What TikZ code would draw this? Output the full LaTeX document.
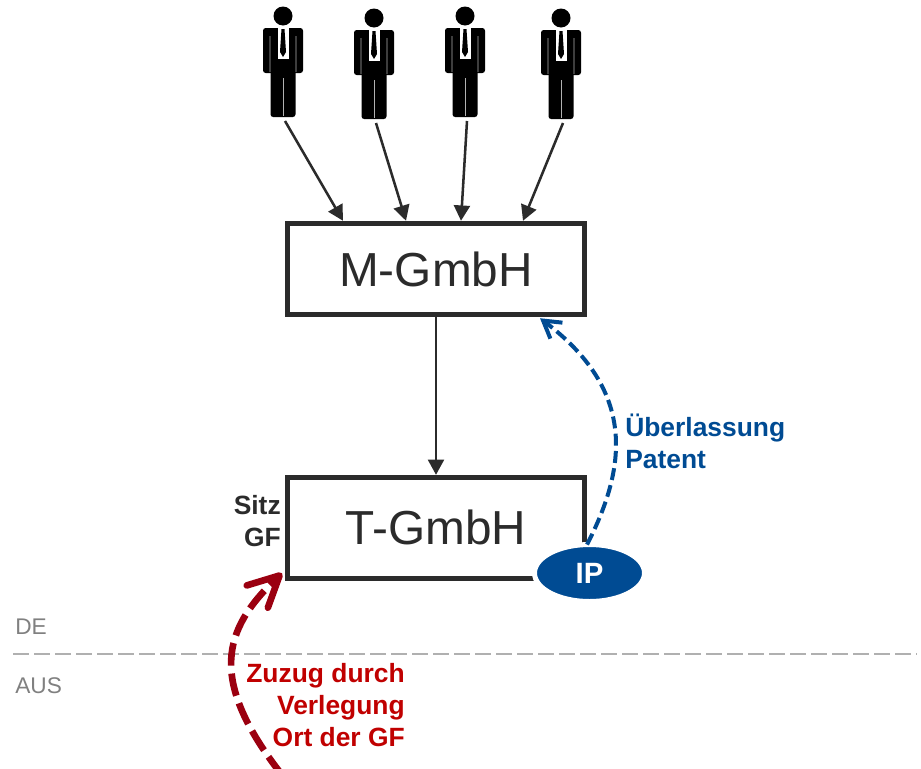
\documentclass[tikz,border=0pt]{standalone}
\usepackage{fontspec}
\setmainfont{Liberation Sans}
\usetikzlibrary{arrows.meta,calc,shapes.geometric}
\definecolor{boxgray}{HTML}{2B2B2B}
\definecolor{ipblue}{HTML}{004B93}
\definecolor{zuzugred}{HTML}{C00000}
\definecolor{arcred}{HTML}{9B0010}
\definecolor{borderline}{HTML}{B0B0B0}
\tikzset{
	company/.style={rectangle,draw=boxgray,line width=3.75pt,minimum width=222.75pt,text=boxgray,font=\fontsize{35.8}{40}\selectfont},
	link/.style={draw=boxgray,line width=1.9pt,-{Triangle[length=11.5pt,width=12pt]}},
	note/.style={font=\fontsize{19.8}{24}\selectfont\bfseries,align=right,inner sep=0pt},
	land/.style={font=\fontsize{17}{20}\selectfont,text=gray,anchor=west,inner sep=0pt},
	person/.pic={
		\fill (0,0) circle (9.5);
		\fill[rounded corners=2pt] (-20,12) rectangle (20,57);
		\fill[rounded corners=2pt] (-12.5,50) rectangle (12.5,101);
		\fill[white!70!black] (-13.3,20) rectangle (-12.7,56) (12.7,20) rectangle (13.3,56);
		\fill[white!70!black] (-.3,62) rectangle (.3,100);
		\fill[white] (-5.5,12) -- (5.5,12) -- (5.5,43) -- (-5.5,43) -- cycle;
		\fill (-1.5,13) -- (1.5,13) -- (3,36) -- (0,41) -- (-3,36) -- cycle;
		\coordinate (-foot) at (2,105);
	}
}
\begin{document}
\begin{tikzpicture}[x=.75pt,y=-.75pt]
	\clip (0,0) rectangle (921,768);
	\foreach \X/\Y/\Z in {1/283/16,2/374/18,3/465/16,4/561/18}
	{\pic (p\X) at (\Y,\Z) {person};}
	\node[company,minimum height=68.6pt] (mgmbh) at (436,269) {M-GmbH};
	\node[company,minimum height=76pt,text depth=1.5pt] (tgmbh) at (436,528) {T-GmbH};
	\foreach \X/\Y in {1/58,2/121,3/176,4/238}
	{\draw[link] (p\X-foot) -- ($(mgmbh.north west)+(\Y,0)$);}
	\draw[link] (mgmbh) -- (tgmbh);
	\node[ellipse,fill=ipblue,draw=white,line width=3.75pt,minimum width=82.5pt,minimum height=42.75pt,inner sep=0pt,outer sep=0pt,text=white,font=\fontsize{22}{26}\selectfont\bfseries] (ip) at (589.5,573) {IP};
	\node[note,text=boxgray,anchor=north east] (sitz) at (281,495) {Sitz\\GF};
	\node[note,text=ipblue,align=left,anchor=north west] (patent) at (625,414) {Überlassung\\Patent};
	\node[note,text=zuzugred,anchor=north east] (zuzug) at (405,663) {Zuzug durch\\Verlegung\\Ort der GF};
	\draw[ipblue,line width=3pt,dash pattern=on 9pt off 4pt,-{Straight Barb[length=12.5pt,width=15pt]}] (ip.95) .. controls (628,465) and (635,390) .. ($(mgmbh.south east)+(-47,1)$);
	% grenze
	\coordinate (west) at (13,654);
	\coordinate (east) at (917,654);
	\draw[borderline,line width=1.9pt,dash pattern=on 12pt off 3.75pt] (west) -- (east);
	\node[land] (de) at (15,627) {DE};
	\node[land] (aus) at (15,686) {AUS};
	\coordinate (zuzugstart) at (282,775);
	\draw[arcred,line width=5pt,dash pattern=on 17pt off 6pt,-{Straight Barb[length=23pt,width=23pt,round]}] (zuzugstart) .. controls (208,680) and (222,630) .. ($(tgmbh.south west)+(-3,-8)$);
\end{tikzpicture}
\end{document}
